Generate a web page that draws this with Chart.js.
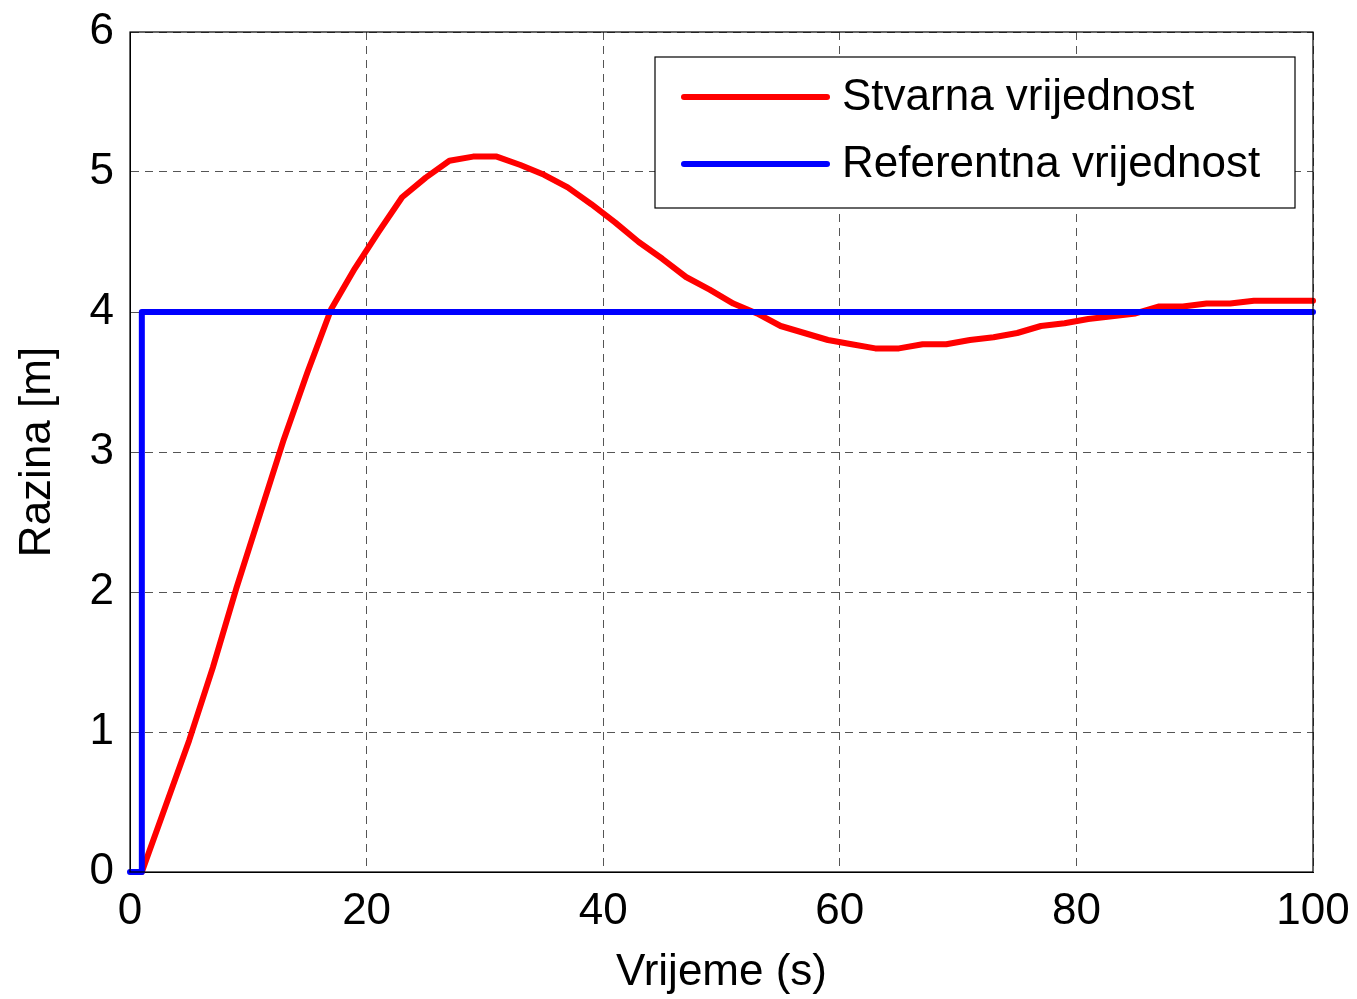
<!DOCTYPE html>
<html>
<head>
<meta charset="utf-8">
<script src="https://cdn.jsdelivr.net/npm/chart.js@4/dist/chart.umd.min.js"></script>
<style>
html,body{margin:0;padding:0;background:#fff;}
#wrap{width:1357px;height:999px;position:relative;}
</style>
</head>
<body>
<div id="wrap"><canvas id="c" width="1357" height="999"></canvas></div>
<script>
// ---- data ----
const actualTime  = [1,3,5,7,9,11,13,15,17,19,21,23,25,27,29,31,33,35,37,39,41,43,45,47,49,51,53,55,57,59,61,63,65,67,69,71,73,75,77,79,81,83,85,87,89,91,93,95,97,99,100];
const actualLevel = [0,0.47,0.94,1.46,2.03,2.56,3.09,3.57,4.02,4.31,4.57,4.82,4.96,5.08,5.11,5.11,5.05,4.98,4.89,4.77,4.64,4.50,4.38,4.25,4.16,4.06,3.99,3.90,3.85,3.80,3.77,3.74,3.74,3.77,3.77,3.80,3.82,3.85,3.90,3.92,3.95,3.97,3.99,4.04,4.04,4.06,4.06,4.08,4.08,4.08,4.08];
const refTime  = [0,1,1,100];
const refLevel = [0,0,4,4];
const seriesLabels = ['Stvarna vrijednost','Referentna vrijednost'];
const xTickValues = [0,20,40,60,80,100];
const yTickValues = [0,1,2,3,4,5,6];
const xTitle = 'Vrijeme (s)';
const yTitle = 'Razina [m]';

const toXY = (xs, ys) => xs.map((x,i)=>({x:x, y:ys[i]}));
const FONT = 'Liberation Sans, Arial, sans-serif';

const frameAndLegend = {
  id:'frameAndLegend',
  afterDatasetsDraw(chart){
    const ctx = chart.ctx, a = chart.chartArea;
    ctx.save();
    ctx.strokeStyle = '#000'; ctx.lineWidth = 1.2; ctx.setLineDash([]);
    ctx.strokeRect(a.left, a.top, a.right-a.left, a.bottom-a.top);
    // legend box
    const bx=655, by=57, bw=640, bh=151;
    ctx.fillStyle='#fff'; ctx.fillRect(bx,by,bw,bh);
    ctx.strokeRect(bx,by,bw,bh);
    const rows=[97,164];
    chart.data.datasets.forEach((ds,i)=>{
      ctx.strokeStyle = ds.borderColor; ctx.lineWidth=6; ctx.lineCap='round';
      ctx.beginPath(); ctx.moveTo(684,rows[i]); ctx.lineTo(827,rows[i]); ctx.stroke();
      ctx.fillStyle='#000'; ctx.font='44px '+FONT; ctx.textBaseline='middle'; ctx.textAlign='left';
      ctx.fillText(ds.label, 842, rows[i]+1);
    });
    ctx.restore();
  }
};

new Chart(document.getElementById('c'), {
  type:'line',
  data:{datasets:[
    {label:seriesLabels[0], data:toXY(actualTime,actualLevel), borderColor:'#ff0000', borderWidth:6, pointRadius:0, tension:0, order:2, clip:false, borderCapStyle:'round', borderJoinStyle:'round'},
    {label:seriesLabels[1], data:toXY(refTime,refLevel), borderColor:'#0000ff', borderWidth:6, pointRadius:0, tension:0, order:1, clip:false, borderCapStyle:'round', borderJoinStyle:'round'}
  ]},
  options:{
    responsive:false, animation:false,
    layout:{padding:{left:0,right:44,top:32,bottom:0}},
    plugins:{legend:{display:false}, tooltip:{enabled:false}},
    scales:{
      x:{type:'linear', min:0, max:100,
        afterBuildTicks:s=>{s.ticks = xTickValues.map(v=>({value:v}));},
        afterFit:s=>{s.height=127;},
        ticks:{font:{family:FONT,size:44,lineHeight:1.5}, color:'#000', padding:7, maxRotation:0},
        grid:{color:'#555', lineWidth:1, drawTicks:false},
        border:{display:true,color:'#000',dash:[8,6]},
        title:{display:true, text:xTitle, font:{family:FONT,size:44}, color:'#000', padding:{top:0,bottom:0}}
      },
      y:{type:'linear', min:0, max:6,
        afterBuildTicks:s=>{s.ticks = yTickValues.map(v=>({value:v}));},
        afterFit:s=>{s.width=130;},
        ticks:{font:{family:FONT,size:44,lineHeight:0.5}, color:'#000', padding:16},
        grid:{color:'#555', lineWidth:1, drawTicks:false},
        border:{display:true,color:'#000',dash:[8,6]},
        title:{display:true, text:yTitle, font:{family:FONT,size:44}, color:'#000', padding:{top:11,bottom:0}}
      }
    }
  },
  plugins:[frameAndLegend]
});
</script>
</body>
</html>
